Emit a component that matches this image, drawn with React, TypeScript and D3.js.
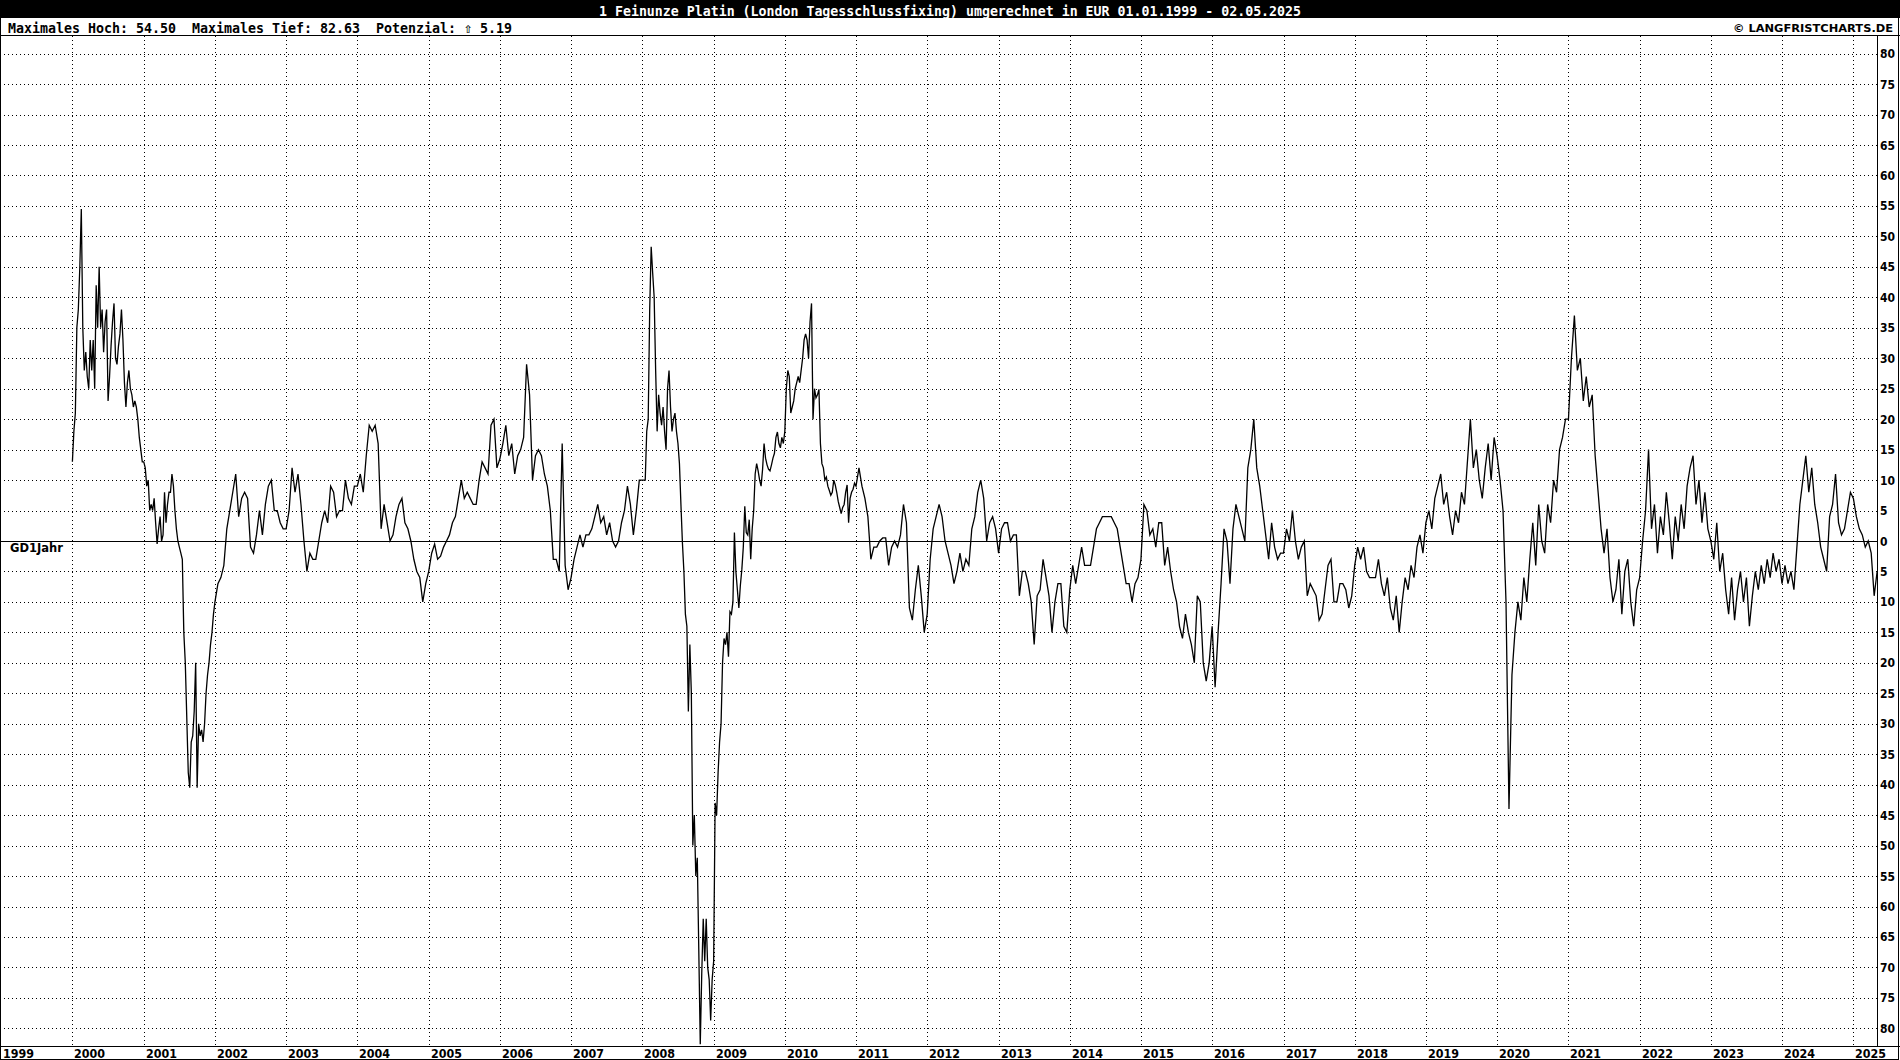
import React from 'react';
import * as d3 from 'd3';

// ---- data: deviation (%) of platinum (EUR) from its 1-year average ----
// each array holds evenly spaced readings across its calendar year (24 = twice a month, 48 = weekly-ish)
const firstYear = 2000;
const v2000 = [13, 18, 21, 35, 38, 45, 54.5, 35, 28, 31, 27, 25, 33, 28, 33, 25, 42, 35, 45, 35, 38, 31, 36, 38, 23, 27, 32, 36, 39, 30, 29, 32, 34, 38, 33, 26, 22, 26, 28, 25, 24, 22, 23, 22, 20, 17, 15, 13];
const v2001 = [13, 12, 9, 10, 5, 6, 5, 7, 3, -0.5, 2, 4, 0, 1, 8, 3, 6, 8, 8, 11, 9, 5, 2, 0, -1, -2, -3, -15, -20, -29, -38, -40.5, -33, -32, -28, -20, -40.5, -30, -32, -31, -33, -30, -25, -22, -20, -17, -15, -12];
const v2002 = [-10, -7, -6, -4, 2, 5, 8, 11, 4, 7, 8, 7, -1, -2, 1, 5, 1, 6, 9, 10, 5, 5, 3, 2];
const v2003 = [2, 5, 12, 8, 11, 6, 0, -5, -2, -3, -3, 0, 3, 5, 3, 9, 8, 4, 5, 5, 10, 7, 6, 9];
const v2004 = [9, 11, 8, 14, 19, 18, 19, 16, 2, 6, 3, 0, 1, 4, 6, 7, 3, 2, 0, -3, -5, -6, -10, -7];
const v2005 = [-5, -2, -0.5, -3, -2.5, -1, 0, 1, 3, 4, 7, 10, 7, 8, 7, 6, 6, 10, 13, 12, 11, 19, 20, 12];
const v2006 = [13.5, 16, 19, 14, 16, 11, 14, 15, 17, 29, 24, 10, 14, 15, 14, 11, 9, 5, -3, -3, -5, 16, -4, -8];
const v2007 = [-6, -3, -1, 1, -1, 1, 1, 2, 4, 6, 3, 4, 1, 3, 0, -1, 0, 3, 5, 9, 6, 1, 5, 10];
const v2008 = [10, 10, 10, 18, 20, 38, 48.3, 44, 40, 28, 18, 24, 21, 19, 22, 18, 15, 25, 28, 22, 18, 20, 21, 18, 16, 12.7, 6, -0.3, -5, -12, -14, -28, -17, -25, -50, -45, -55, -52, -67, -82.6, -71, -62, -69, -62, -70, -72, -78.7, -72];
const v2009 = [-69, -43, -45, -38, -33, -30, -20, -16, -17, -15, -19, -11.6, -12, -10, 1.4, -5, -8, -11, -7.3, -4.7, -1, 5.7, 1.4, 1, 3.5, -3, 2, 5, 11, 12.7, 11.5, 10, 9, 11.8, 16, 13.6, 12.5, 11.8, 11.5, 12.5, 13.6, 14.4, 17, 17.9, 16, 15.3, 17, 16];
const v2010 = [18, 25, 28, 27, 21, 22, 23, 25, 26, 27, 26, 28, 30, 33, 34, 33, 30, 36, 39, 20, 25, 23.5, 24, 24.9, 16, 12.7, 12, 10, 10.5, 9, 8.3, 7.5, 8, 10, 9.2, 8, 6.5, 5.5, 4.5, 5.5, 6, 8, 9.2, 3, 7, 8, 8.5, 9.5];
const v2011 = [9, 12, 9, 7, 4, -3, -1, -1, 0, 0.5, 0.5, -4, -1, 0, -1, 1, 6, 3, -11, -13, -8, -4, -9, -15];
const v2012 = [-12, -3, 2, 4, 6, 4, 0, -2, -4, -7, -5, -2, -5, -3, -4, 2, 4, 8, 10, 7, 0, 3, 4, 2];
const v2013 = [-2, 2, 3, 3, 0, 1, 1, -9, -5, -5, -7, -10, -17, -9, -8, -3, -6, -9, -15, -10, -7, -7, -14, -15];
const v2014 = [-8, -4, -7, -4, -1, -4, -4, -4, -1, 2, 3, 4, 4, 4, 4, 3, 2, -1, -4, -7, -7, -10, -7, -6];
const v2015 = [-3, 6, 5, 1, 2, -1, 3, 3, -4, -1, -5, -8, -10, -14, -16, -12, -15, -17, -20, -9, -10, -20, -23, -20];
const v2016 = [-14, -24, -15, -7, 2, 0, -7, 2, 6, 4, 2, 0, 12, 15, 20, 12, 9, 5, 1, -3, 3, -1, -3, -2];
const v2017 = [-2, 2, 0, 5, 0, -3, -1, 0, -9, -7, -8, -9, -13, -12, -8, -4, -3, -10, -10, -7, -7, -8, -11, -9];
const v2018 = [-4, -1, -3, -1, -5, -6, -6, -6, -3, -7, -9, -6, -11, -13, -9, -15, -10, -6, -8, -4, -6, -1, 1, -2];
const v2019 = [3, 5, 2, 7, 9, 11, 6, 8, 4, 1, 5, 3, 8, 6, 13, 20, 12, 15, 10, 7, 12, 16, 10, 17];
const v2020 = [14, 10, 5, -10, -44, -22, -15, -10, -13, -6, -10, -3, 3, -4, 6, 0, -2, 6, 3, 10, 8, 15, 17, 20];
const v2021 = [20, 30, 37, 28, 30, 23, 27, 22, 24, 14, 8, 2, -2, 2, -6, -10, -8, -3, -12, -5, -3, -10, -14, -8];
const v2022 = [-6, 0, 5, 15, 2, 6, -2, 4, 1, 8, 3, -3, 4, 0, 6, 2, 9, 12, 14, 6, 10, 3, 8, 2];
const v2023 = [0, -3, 3, -5, -2, -8, -12, -6, -13, -8, -5, -10, -6, -14, -9, -5, -8, -4, -7, -3, -6, -2, -5, -3];
const v2024 = [-7, -4, -7, -5, -8, -1, 6, 10, 14, 8, 12, 6, 3, -1, -3, -5, 4, 6, 11, 3, 1, 2, 5, 8];
const v2025 = [7, 4, 2, 1, -1, 0, -2, -9, -5];

const seriesByYear = [
  v2000, v2001, v2002, v2003, v2004, v2005, v2006, v2007, v2008, v2009, v2010, v2011, v2012,
  v2013, v2014, v2015, v2016, v2017, v2018, v2019, v2020, v2021, v2022, v2023, v2024, v2025,
];
// readings per full year for the last (partial) year
const partialYearSteps = 24;

const yearLabels = [
  '1999', '2000', '2001', '2002', '2003', '2004', '2005', '2006', '2007', '2008', '2009', '2010', '2011',
  '2012', '2013', '2014', '2015', '2016', '2017', '2018', '2019', '2020', '2021', '2022', '2023', '2024', '2025',
];
const yTickValues = [-80, -75, -70, -65, -60, -55, -50, -45, -40, -35, -30, -25, -20, -15, -10, -5, 0, 5, 10, 15, 20, 25, 30, 35, 40, 45, 50, 55, 60, 65, 70, 75, 80];

const titleText = '1 Feinunze Platin (London Tagesschlussfixing) umgerechnet in EUR 01.01.1999 - 02.05.2025';
const infoText = 'Maximales Hoch: 54.50  Maximales Tief: 82.63  Potenzial: \u21E7 5.19';
const copyrightText = '\u00A9 LANGFRISTCHARTS.DE';
const lineLabel = 'GD1Jahr';

const W = 1900;
const H = 1060;
const plotTop = 36;
const plotBottom = 1046;
const plotRight = 1877;

export default function App() {
  const x = d3
    .scaleTime()
    .domain([new Date(1999, 0, 1), new Date(2025, 4, 2)])
    .range([1.2, plotRight]);
  const y = d3.scaleLinear().domain([-82.9, 82.9]).range([plotBottom, plotTop]);

  type P = { date: Date; v: number };
  const points: P[] = [];
  seriesByYear.forEach((arr, i) => {
    const yr = firstYear + i;
    const t0 = new Date(yr, 0, 1).getTime();
    const t1 = new Date(yr + 1, 0, 1).getTime();
    const n = i === seriesByYear.length - 1 ? partialYearSteps : arr.length;
    arr.forEach((v, k) => {
      points.push({ date: new Date(t0 + ((t1 - t0) * k) / n), v });
    });
  });

  const line = d3
    .line<P>()
    .x((d) => x(d.date))
    .y((d) => y(d.v));

  const yearDates = yearLabels.map((s) => new Date(+s, 0, 1));
  const px = (v: number) => Math.round(v) + 0.5;

  const mono = '"DejaVu Sans Mono", monospace';
  const sans = '"DejaVu Sans", sans-serif';

  return (
    <svg
      width={W}
      height={H}
      viewBox={`0 0 ${W} ${H}`}
      style={{ position: 'absolute', left: 0, top: 0, background: '#fff' }}
    >
      <rect x={0} y={0} width={W} height={H} fill="#fff" />
      {/* header */}
      <rect x={0} y={0} width={W} height={18} fill="#000" />
      <text
        x={599}
        y={15.5}
        fill="#fff"
        fontFamily={mono}
        fontWeight="bold"
        fontSize={14}
        textLength={702}
        lengthAdjust="spacingAndGlyphs"
        xmlSpace="preserve"
        style={{ whiteSpace: 'pre' }}
      >
        {titleText}
      </text>
      <text
        x={8}
        y={33}
        fill="#000"
        fontFamily={mono}
        fontWeight="bold"
        fontSize={14}
        textLength={504}
        lengthAdjust="spacingAndGlyphs"
        xmlSpace="preserve"
        style={{ whiteSpace: 'pre' }}
      >
        {infoText}
      </text>
      <text
        x={1733}
        y={32}
        fill="#000"
        fontFamily={sans}
        fontWeight="bold"
        fontSize={11}
        textLength={160}
        lengthAdjust="spacingAndGlyphs"
      >
        {copyrightText}
      </text>

      {/* grid */}
      <g stroke="#000" strokeWidth={1} shapeRendering="crispEdges">
        {yTickValues
          .filter((v) => v !== 0)
          .map((v) => (
            <line key={'h' + v} x1={0} x2={plotRight} y1={px(y(v))} y2={px(y(v))} strokeDasharray="1,3" />
          ))}
        {yearDates.slice(1).map((d, i) => (
          <line key={'v' + i} x1={px(x(d))} x2={px(x(d))} y1={plotTop} y2={plotBottom} strokeDasharray="1,3" />
        ))}
        <line x1={0} x2={plotRight} y1={px(y(0))} y2={px(y(0))} />
      </g>

      {/* series */}
      <path d={line(points) || ''} fill="none" stroke="#000" strokeWidth={1.3} strokeLinejoin="miter" />

      {/* frame */}
      <g stroke="#000" strokeWidth={1} shapeRendering="crispEdges" fill="none">
        <line x1={0} x2={W} y1={plotTop - 0.5} y2={plotTop - 0.5} />
        <line x1={0} x2={W} y1={plotBottom + 0.5} y2={plotBottom + 0.5} />
        <line x1={plotRight + 0.5} x2={plotRight + 0.5} y1={plotTop} y2={plotBottom} />
        <rect x={0.5} y={0.5} width={W - 2} height={H - 1} />
      </g>

      {/* right axis labels */}
      <g fontFamily={sans} fontWeight="bold" fontSize={12} fill="#000">
        {yTickValues.map((v) => {
          const s = String(Math.abs(v));
          return (
            <text
              key={'yl' + v}
              x={plotRight + 3}
              y={y(v) + 4.5}
              textLength={s.length * 7.5}
              lengthAdjust="spacingAndGlyphs"
            >
              {s}
            </text>
          );
        })}
      </g>

      {/* year labels */}
      <g fontFamily={sans} fontWeight="bold" fontSize={12} fill="#000">
        {yearDates.map((d, i) => (
          <text key={'xl' + i} x={Math.round(x(d)) + 2} y={1057.5} textLength={31} lengthAdjust="spacingAndGlyphs">
            {yearLabels[i]}
          </text>
        ))}
      </g>

      <text
        x={10}
        y={551.5}
        fontFamily={sans}
        fontWeight="bold"
        fontSize={12}
        fill="#000"
        textLength={53}
        lengthAdjust="spacingAndGlyphs"
      >
        {lineLabel}
      </text>
    </svg>
  );
}
